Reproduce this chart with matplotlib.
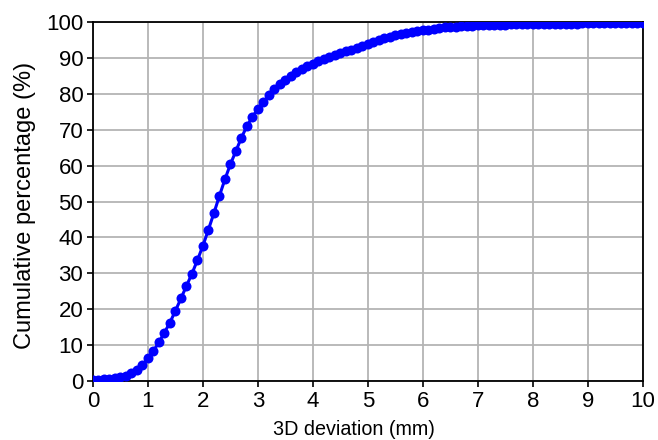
import numpy as np
import matplotlib
matplotlib.use("Agg")
import matplotlib.pyplot as plt

# deviation in mm, sampled every 0.1 mm
deviation = np.round(np.arange(0, 10.01, 0.1), 1)
cum_pct = [
    0.3, 0.4, 0.5, 0.6, 0.8, 1.1, 1.5, 2.2, 3.1, 4.5,
    6.3, 8.4, 10.8, 13.5, 16.3, 19.6, 23.0, 26.5, 29.9, 33.7,
    37.7, 42.2, 46.8, 51.6, 56.2, 60.4, 64.1, 67.8, 71.0, 73.6,
    75.8, 77.8, 79.6, 81.3, 82.7, 83.9, 85.0, 86.0, 86.9, 87.7,
    88.4, 89.1, 89.7, 90.3, 90.8, 91.3, 91.8, 92.3, 92.8, 93.4,
    94.0, 94.5, 95.0, 95.5, 95.9, 96.3, 96.6, 96.9, 97.2, 97.5,
    97.7, 97.9, 98.1, 98.3, 98.5, 98.6, 98.7, 98.8, 98.9, 99.0,
    99.1, 99.15, 99.2, 99.25, 99.3, 99.3, 99.35, 99.4, 99.4, 99.45,
    99.45, 99.5, 99.5, 99.5, 99.5, 99.55, 99.55, 99.55, 99.55, 99.6,
    99.6, 99.6, 99.6, 99.6, 99.6, 99.6, 99.6, 99.6, 99.6, 99.6,
    99.6,
]

plt.rcParams['font.family'] = ['Liberation Sans', 'DejaVu Sans']

fig = plt.figure(figsize=(6.58, 4.4), dpi=100)
ax = fig.add_axes([0.1413, 0.134, 0.8357, 0.816])

ax.plot(deviation, cum_pct, color='#0000ff', linewidth=2.2, marker='o',
        markersize=7.2, markeredgewidth=0, zorder=3)

ax.set_xlim(0, 10)
ax.set_ylim(0, 100)
ax.set_xticks(range(0, 11))
ax.set_yticks(range(0, 101, 10))
ax.grid(True, color='#b4b4b4', linewidth=1.3)
ax.set_axisbelow(True)
ax.tick_params(direction='out', length=4, width=1.2, labelsize=16, color='black')
ax.tick_params(axis='y', pad=3)
ax.tick_params(axis='x', pad=3)
for s in ax.spines.values():
    s.set_linewidth(1.3)
    s.set_color('black')

ax.set_xlabel("3D deviation (mm)", fontsize=14.2)
ax.xaxis.set_label_coords(0.474, -0.162, transform=ax.transAxes)
ax.xaxis.label.set_va('bottom')
ax.set_ylabel("Cumulative percentage (%)", fontsize=17)
ax.yaxis.set_label_coords(25 / 658, 0.532, transform=fig.transFigure)
ax.yaxis.label.set_va('center')

fig.savefig("out.png", dpi=100)
